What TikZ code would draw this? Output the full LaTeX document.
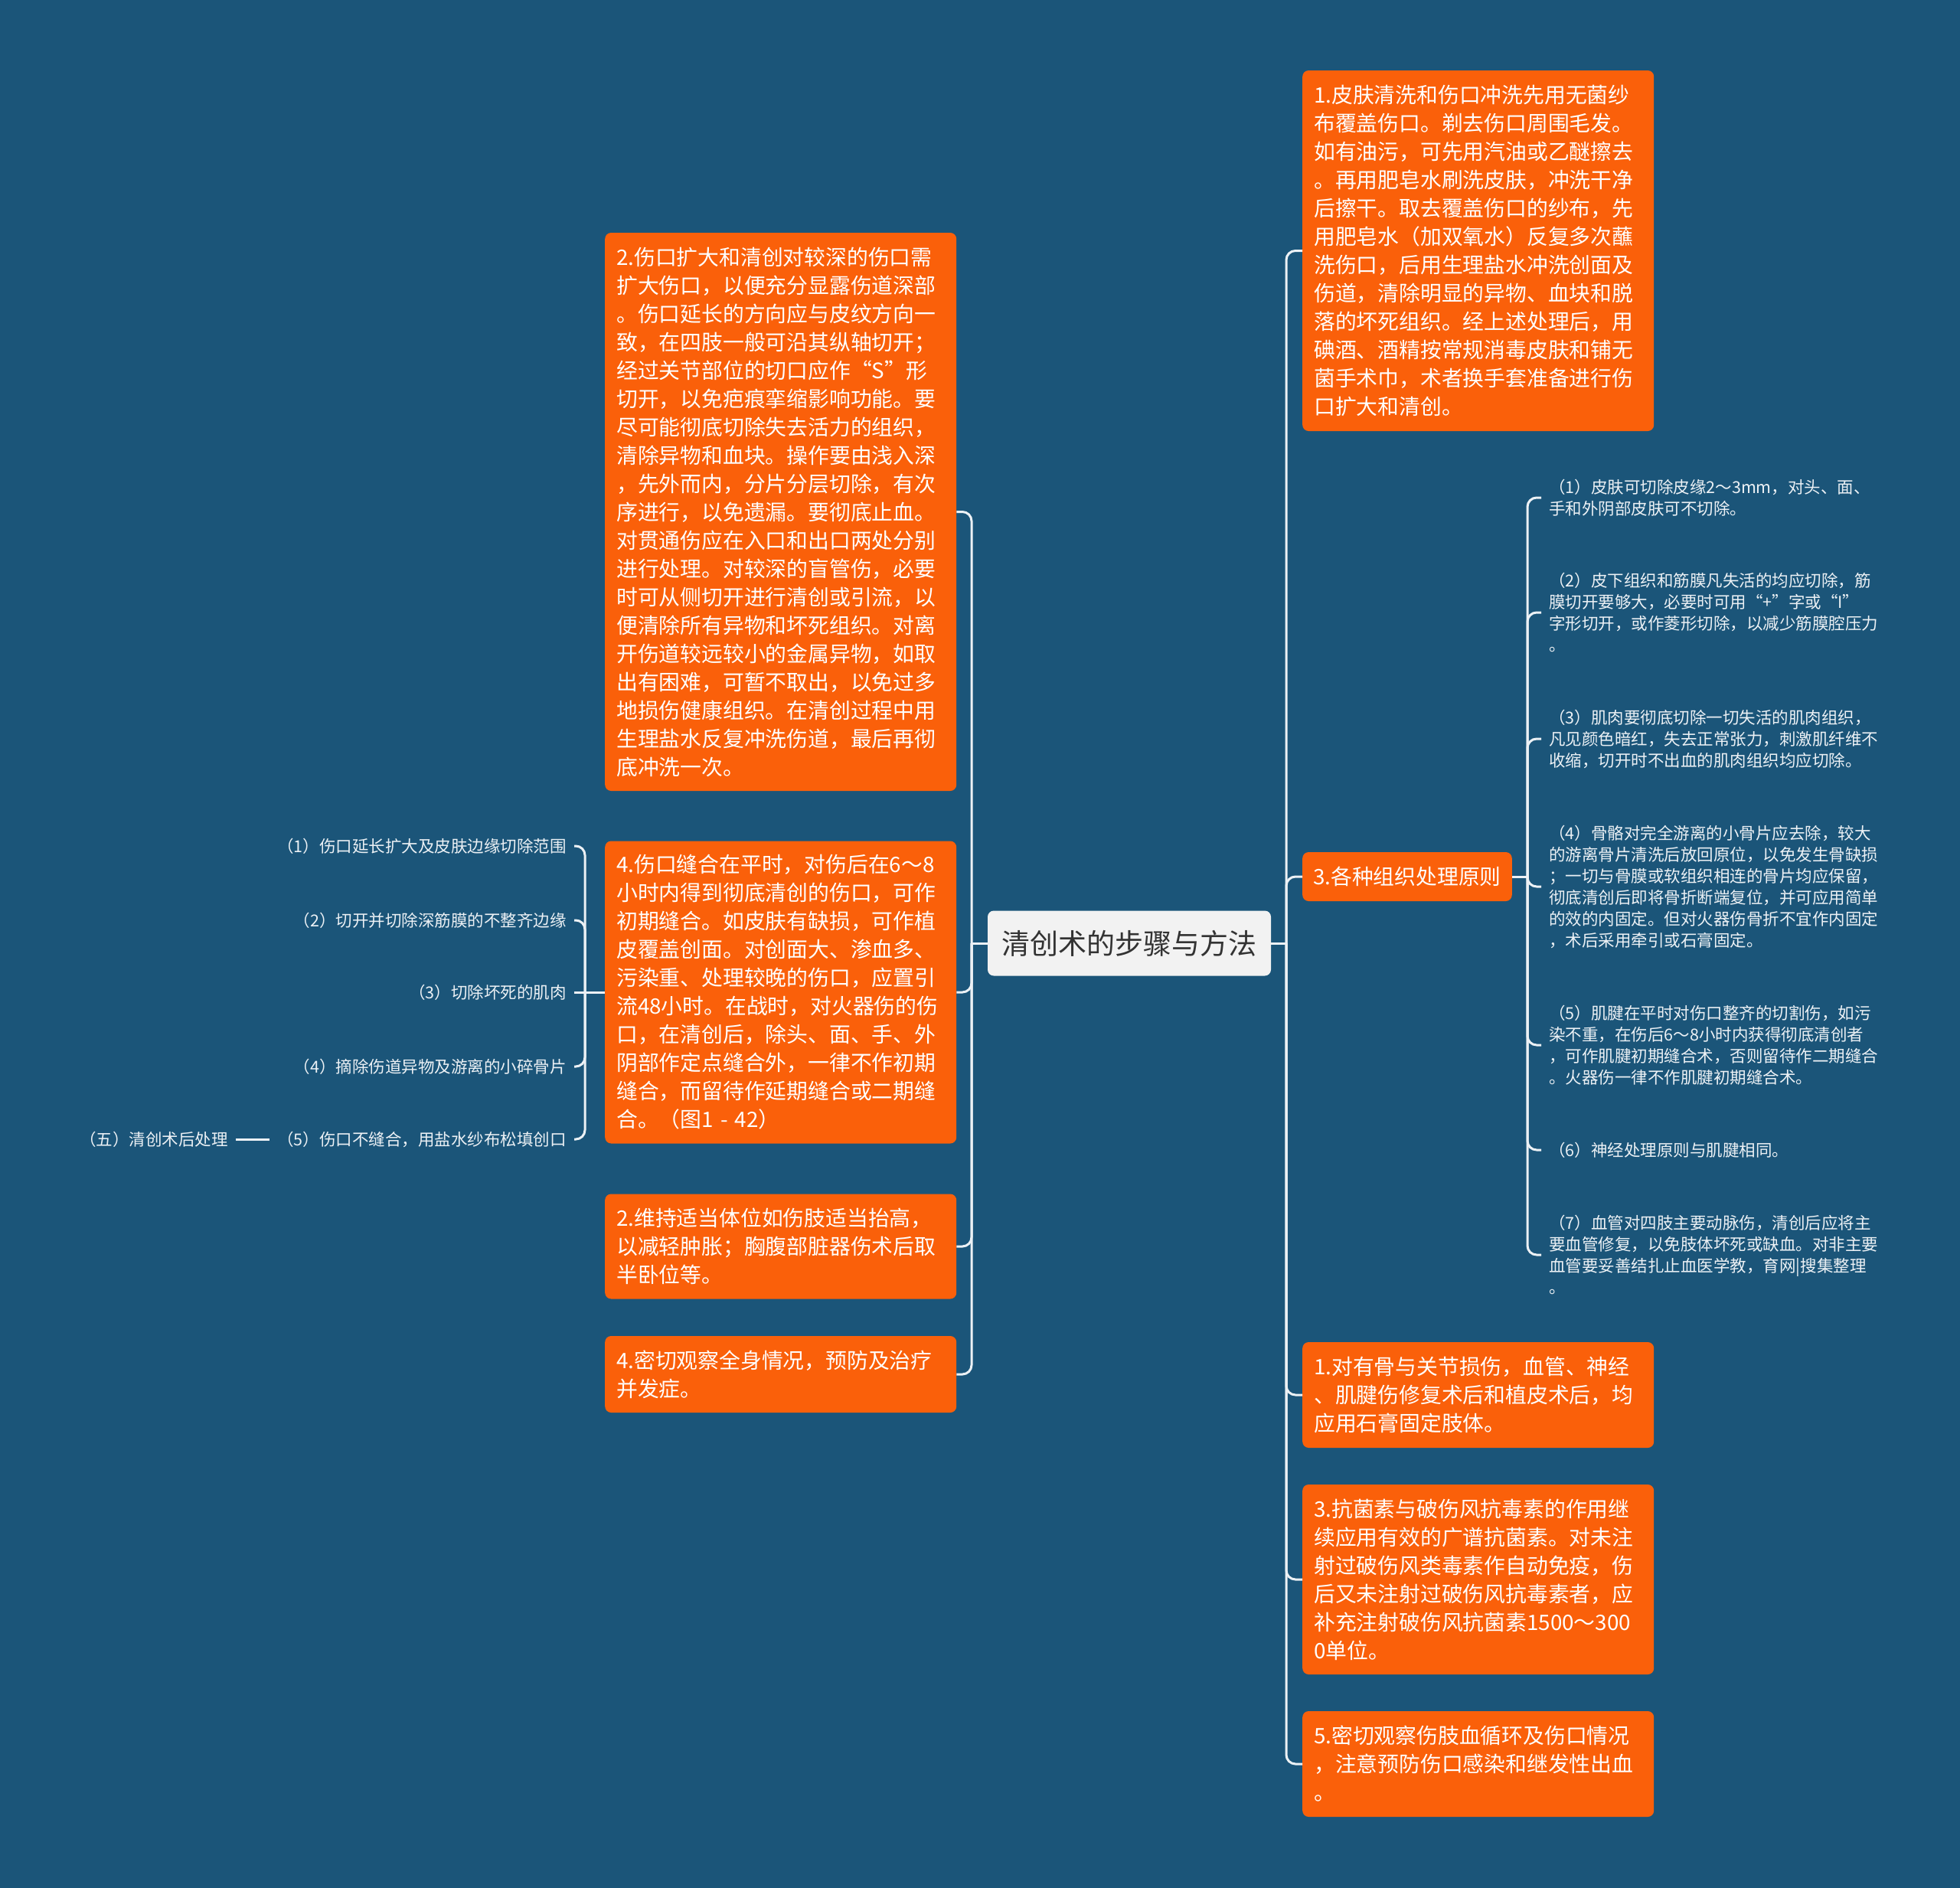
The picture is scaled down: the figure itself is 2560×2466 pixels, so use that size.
\documentclass[tikz,border=0pt]{standalone}
\usepackage{fontspec}
\newfontfamily\cjk{Noto Sans CJK SC}
\definecolor{bgblue}{RGB}{27,85,121}
\definecolor{boxorange}{RGB}{250,96,10}
\definecolor{rootgray}{RGB}{242,242,242}
\definecolor{linkwhite}{RGB}{236,241,245}

\begin{document}
\begin{tikzpicture}[x=1pt,y=-1pt,
    tag/.style={fill=boxorange,rounded corners=8pt,text=white,anchor=west,inner ysep=0pt,
      font=\cjk\fontsize{27.8}{37}\selectfont},
    box/.style={tag,align=left,inner xsep=15pt,text width=429pt},
    leaf/.style={text=linkwhite,align=left,inner xsep=10pt,inner ysep=2pt,
      font=\cjk\fontsize{21.5}{28}\selectfont},
    link/.style={draw=linkwhite,line width=3pt,rounded corners=12pt}]
    \fill[bgblue] (0,0) rectangle (2560,2466);
    \useasboundingbox (0,0) rectangle (2560,2466);
    % root
    \node[fill=rootgray,rounded corners=8pt,text=black!80,minimum width=370pt,minimum height=85pt,
      font=\cjk\fontsize{37}{44}\selectfont] (root) at (1475,1232) {清创术的步骤与方法};
    % left branches
    \node[box,minimum height=729pt] (enlarge) at (790,668.5) {2.伤口扩大和清创对较深的伤口需\\扩大伤口，以便充分显露伤道深部\\。伤口延长的方向应与皮纹方向一\\致，在四肢一般可沿其纵轴切开；\\经过关节部位的切口应作“S”形\\切开，以免疤痕挛缩影响功能。要\\尽可能彻底切除失去活力的组织，\\清除异物和血块。操作要由浅入深\\，先外而内，分片分层切除，有次\\序进行，以免遗漏。要彻底止血。\\对贯通伤应在入口和出口两处分别\\进行处理。对较深的盲管伤，必要\\时可从侧切开进行清创或引流，以\\便清除所有异物和坏死组织。对离\\开伤道较远较小的金属异物，如取\\出有困难，可暂不取出，以免过多\\地损伤健康组织。在清创过程中用\\生理盐水反复冲洗伤道，最后再彻\\底冲洗一次。};
    \node[box,minimum height=395pt] (suture) at (790,1296) {4.伤口缝合在平时，对伤后在6～8\\小时内得到彻底清创的伤口，可作\\初期缝合。如皮肤有缺损，可作植\\皮覆盖创面。对创面大、渗血多、\\污染重、处理较晚的伤口，应置引\\流48小时。在战时，对火器伤的伤\\口，在清创后，除头、面、手、外\\阴部作定点缝合外，一律不作初期\\缝合，而留待作延期缝合或二期缝\\合。（图1 - 42）};
    \node[box,minimum height=137pt] (posture) at (790,1628) {2.维持适当体位如伤肢适当抬高，\\以减轻肿胀；胸腹部脏器伤术后取\\半卧位等。};
    \node[box,minimum height=100pt] (observe) at (790,1795) {4.密切观察全身情况，预防及治疗\\并发症。};
    % leaves of the suture box
    \node[leaf,anchor=east] (s1) at (750,1105) {（1）伤口延长扩大及皮肤边缘切除范围};
    \node[leaf,anchor=east] (s2) at (750,1202) {（2）切开并切除深筋膜的不整齐边缘};
    \node[leaf,anchor=east] (s3) at (750,1296) {（3）切除坏死的肌肉};
    \node[leaf,anchor=east] (s4) at (750,1393) {（4）摘除伤道异物及游离的小碎骨片};
    \node[leaf,anchor=east] (s5) at (750,1488) {（5）伤口不缝合，用盐水纱布松填创口};
    \node[leaf,anchor=east] (post) at (308,1488) {（五）清创术后处理};
    % right branches
    \node[box,minimum height=471pt] (skin) at (1701,327.5) {1.皮肤清洗和伤口冲洗先用无菌纱\\布覆盖伤口。剃去伤口周围毛发。\\如有油污，可先用汽油或乙醚擦去\\。再用肥皂水刷洗皮肤，冲洗干净\\后擦干。取去覆盖伤口的纱布，先\\用肥皂水（加双氧水）反复多次蘸\\洗伤口，后用生理盐水冲洗创面及\\伤道，清除明显的异物、血块和脱\\落的坏死组织。经上述处理后，用\\碘酒、酒精按常规消毒皮肤和铺无\\菌手术巾，术者换手套准备进行伤\\口扩大和清创。};
    \node[tag,inner xsep=14pt,minimum height=64pt] (tissue) at (1701,1145) {3.各种组织处理原则};
    \node[box,minimum height=138pt] (plaster) at (1701,1822) {1.对有骨与关节损伤，血管、神经\\、肌腱伤修复术后和植皮术后，均\\应用石膏固定肢体。};
    \node[box,minimum height=248pt] (antibio) at (1701,2063) {3.抗菌素与破伤风抗毒素的作用继\\续应用有效的广谱抗菌素。对未注\\射过破伤风类毒素作自动免疫，伤\\后又未注射过破伤风抗毒素者，应\\补充注射破伤风抗菌素1500～300\\0单位。};
    \node[box,minimum height=138pt] (watch) at (1701,2304) {5.密切观察伤肢血循环及伤口情况\\，注意预防伤口感染和继发性出血\\。};
    % leaves of the tissue node
    \node[leaf,anchor=west] (t1) at (2013,650) {（1）皮肤可切除皮缘2～3mm，对头、面、\\手和外阴部皮肤可不切除。};
    \node[leaf,anchor=west] (t2) at (2013,800) {（2）皮下组织和筋膜凡失活的均应切除，筋\\膜切开要够大，必要时可用“+”字或“I”\\字形切开，或作菱形切除，以减少筋膜腔压力\\。};
    \node[leaf,anchor=west] (t3) at (2013,965) {（3）肌肉要彻底切除一切失活的肌肉组织，\\凡见颜色暗红，失去正常张力，刺激肌纤维不\\收缩，切开时不出血的肌肉组织均应切除。};
    \node[leaf,anchor=west] (t4) at (2013,1158) {（4）骨骼对完全游离的小骨片应去除，较大\\的游离骨片清洗后放回原位，以免发生骨缺损\\；一切与骨膜或软组织相连的骨片均应保留，\\彻底清创后即将骨折断端复位，并可应用简单\\的效的内固定。但对火器伤骨折不宜作内固定\\，术后采用牵引或石膏固定。};
    \node[leaf,anchor=west] (t5) at (2013,1365) {（5）肌腱在平时对伤口整齐的切割伤，如污\\染不重，在伤后6～8小时内获得彻底清创者\\，可作肌腱初期缝合术，否则留待作二期缝合\\。火器伤一律不作肌腱初期缝合术。};
    \node[leaf,anchor=west] (t6) at (2013,1502) {（6）神经处理原则与肌腱相同。};
    \node[leaf,anchor=west] (t7) at (2013,1639) {（7）血管对四肢主要动脉伤，清创后应将主\\要血管修复，以免肢体坏死或缺血。对非主要\\血管要妥善结扎止血医学教，育网|搜集整理\\。};
    % connectors
    \coordinate (ltrunk) at (1269,1232);
    \draw[link] (root.west) -- (ltrunk);
    \foreach \n in {enlarge,suture,posture,observe}{\draw[link] (ltrunk) |- (\n.east);}
    \coordinate (strunk) at (764,1296);
    \draw[link] (suture.west) -- (strunk) -- (s3.east);
    \foreach \n in {s1,s2,s4,s5}{\draw[link] (strunk) |- (\n.east);}
    \draw[link] (s5.west) -- (post.east);
    \coordinate (rtrunk) at (1680,1232);
    \draw[link] (root.east) -- (rtrunk);
    \foreach \n in {skin,tissue,plaster,antibio,watch}{\draw[link] (rtrunk) |- (\n.west);}
    \coordinate (ttrunk) at (1995,1145);
    \draw[link] (tissue.east) -- (ttrunk);
    \foreach \n in {t1,t2,t3,t4,t5,t6,t7}{\draw[link] (ttrunk) |- (\n.west);}
\end{tikzpicture}
\end{document}
